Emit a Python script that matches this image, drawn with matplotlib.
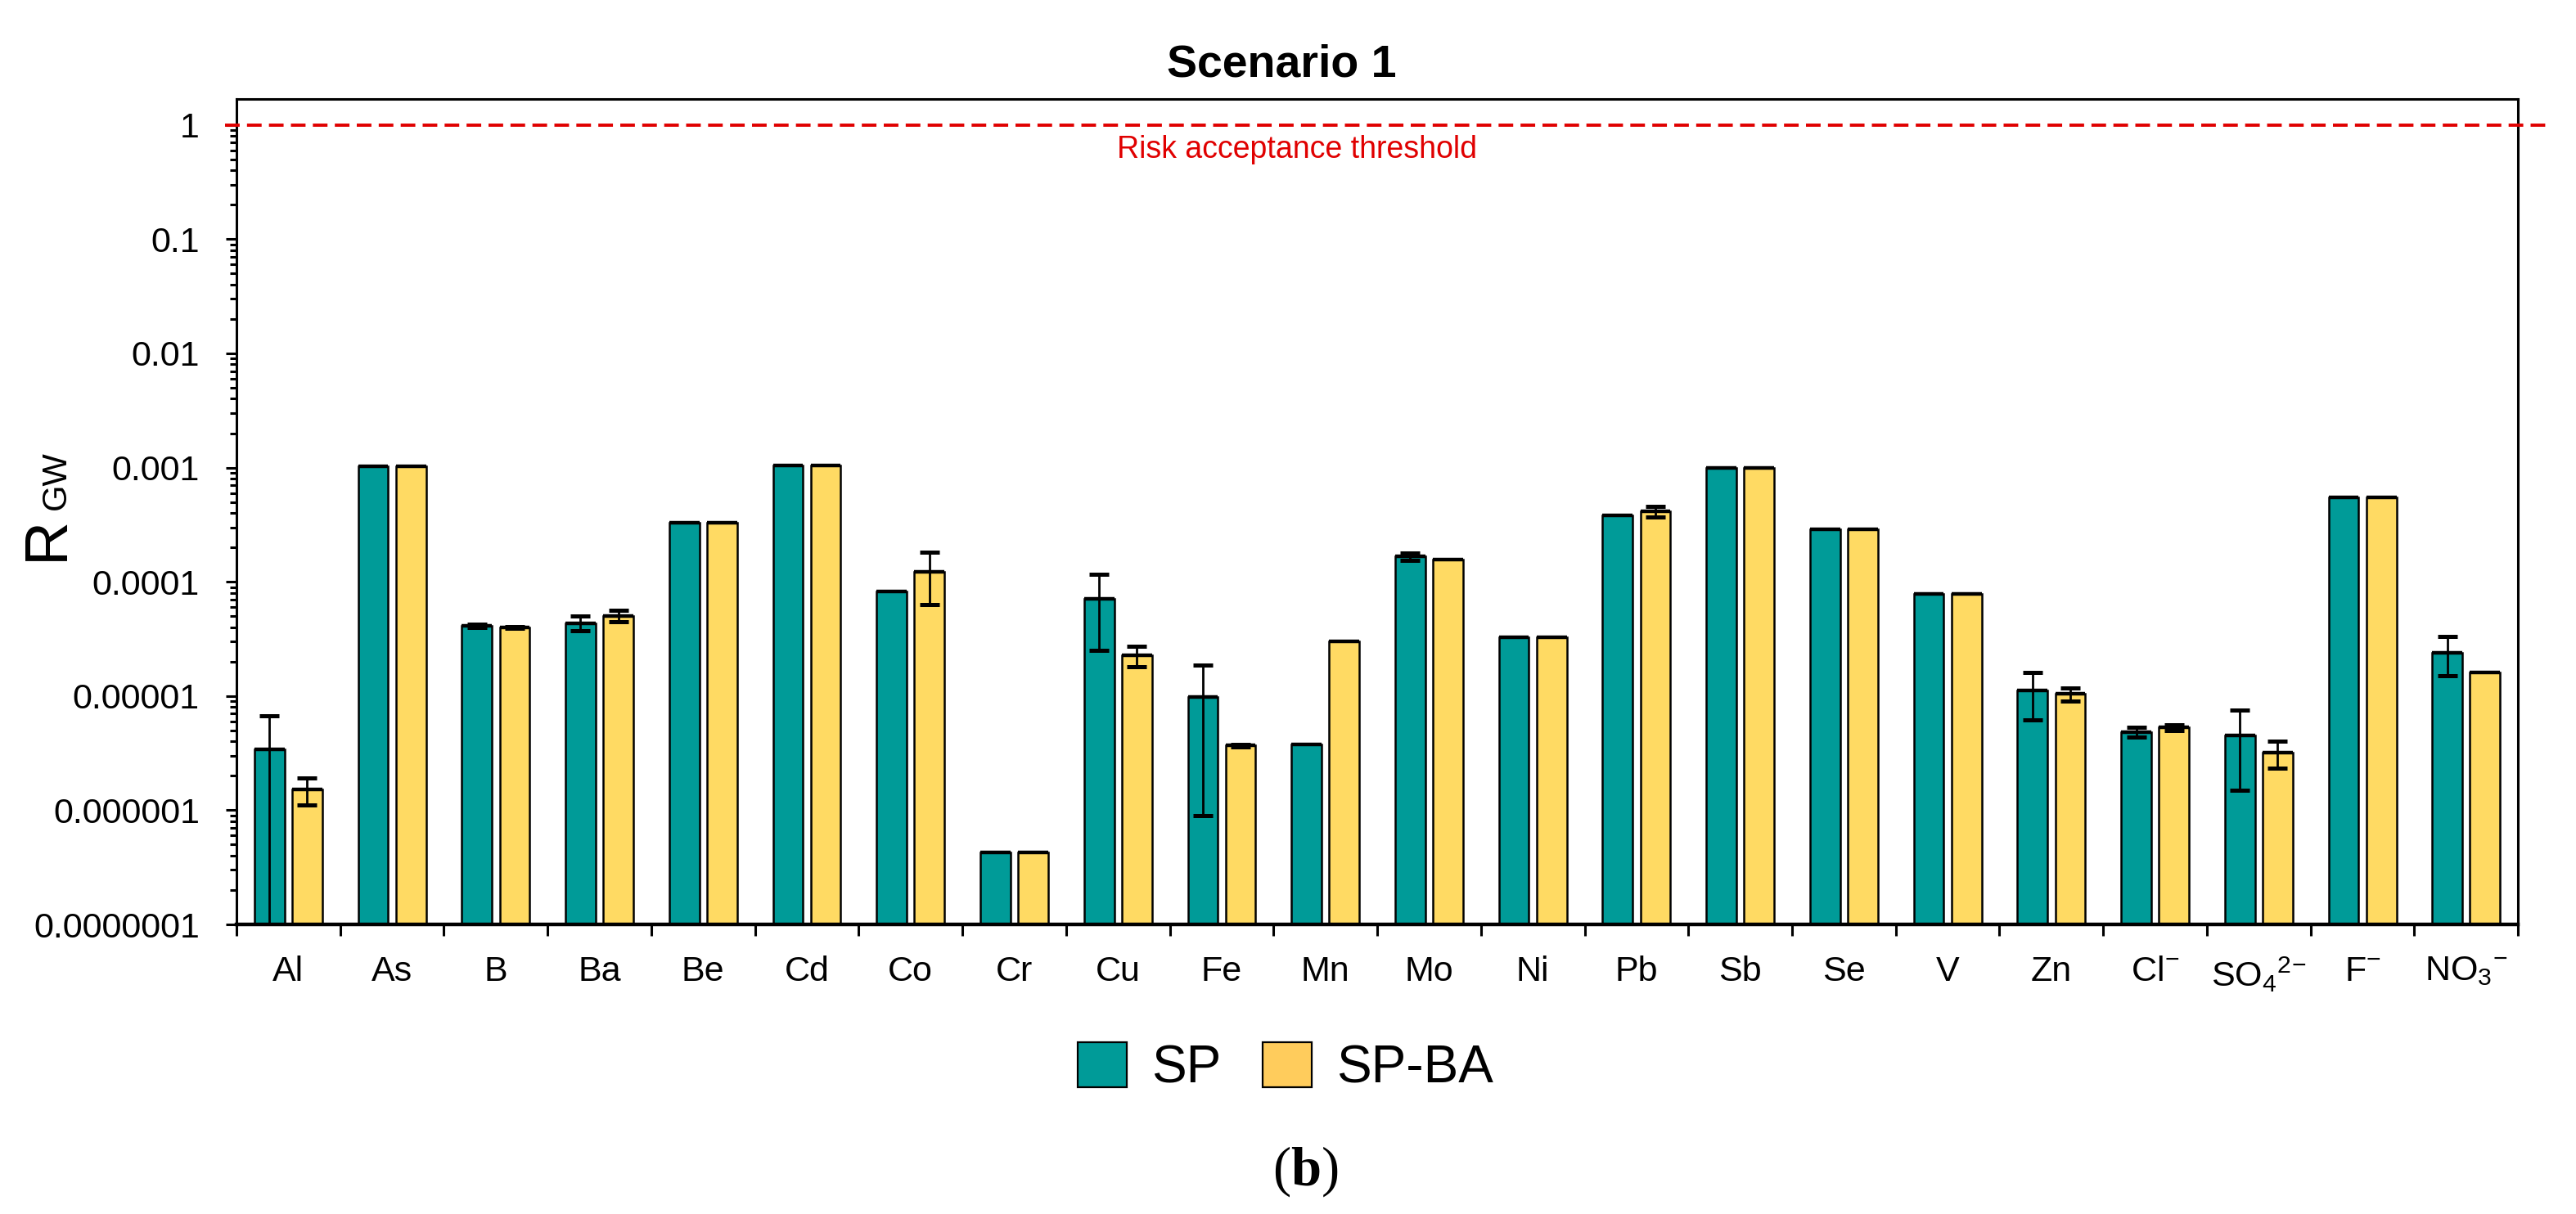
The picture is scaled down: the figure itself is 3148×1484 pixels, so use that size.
import numpy as np
import matplotlib
matplotlib.use("Agg")
import matplotlib.pyplot as plt
from matplotlib.patches import Patch
from matplotlib.ticker import LogLocator, FixedLocator, NullFormatter

plt.rcParams['font.family'] = ['Liberation Sans', 'DejaVu Sans']
plt.rcParams['mathtext.fontset'] = 'custom'
plt.rcParams['mathtext.rm'] = 'Liberation Sans'
plt.rcParams['mathtext.it'] = 'Liberation Sans'
plt.rcParams['mathtext.bf'] = 'Liberation Serif:bold'

categories = ['Al', 'As', 'B', 'Ba', 'Be', 'Cd', 'Co', 'Cr', 'Cu', 'Fe', 'Mn', 'Mo',
              'Ni', 'Pb', 'Sb', 'Se', 'V', 'Zn', r'Cl$^{-}$', r'SO$_{4}{}^{2\!-}$',
              r'F$^{-}$', r'NO$_{3}{}^{-}$']

sp = [3.4e-6, 1.03e-3, 4.13e-5, 4.35e-5, 3.29e-4, 1.05e-3, 8.2e-5, 4.3e-7,
      7.1e-5, 9.8e-6, 3.74e-6, 1.67e-4, 3.25e-5, 3.82e-4, 9.9e-4, 2.88e-4,
      7.83e-5, 1.12e-5, 4.85e-6, 4.5e-6, 5.48e-4, 2.4e-5]
sp_err = [3.3e-6, 0, 1.5e-6, 6.3e-6, 0, 0, 0, 0,
          4.6e-5, 8.9e-6, 0, 1.3e-5, 0, 0, 0, 0,
          0, 5.0e-6, 4.6e-7, 3.0e-6, 0, 9.0e-6]

spba = [1.52e-6, 1.03e-3, 4.0e-5, 5.03e-5, 3.29e-4, 1.05e-3, 1.22e-4, 4.3e-7,
        2.26e-5, 3.69e-6, 2.99e-5, 1.57e-4, 3.25e-5, 4.15e-4, 9.9e-4, 2.88e-4,
        7.83e-5, 1.04e-5, 5.30e-6, 3.17e-6, 5.48e-4, 1.62e-5]
spba_err = [4.1e-7, 0, 5e-7, 5.8e-6, 0, 0, 5.9e-5, 0,
            4.6e-6, 1.0e-7, 0, 0, 0, 4.5e-5, 0, 0,
            0, 1.3e-6, 3.3e-7, 8.5e-7, 0, 0]

series_names = ['SP', 'SP-BA']
teal = '#009B98'
yellow = '#FFDA63'
legend_yellow = '#FFCC5C'

fig = plt.figure(figsize=(15.74, 7.42), dpi=200)
ax = fig.add_axes([0.0918, 0.2385, 0.8857, 0.6803])

x = np.arange(len(categories))
w = 0.29
off = 0.182

for vals, errs, color, sgn in [(sp, sp_err, teal, -1), (spba, spba_err, yellow, 1)]:
    vals = np.array(vals)
    errs = np.array(errs)
    xs = x + sgn * off
    ax.bar(xs, vals, width=w, color=color, edgecolor='black', linewidth=0.9, zorder=2)
    ax.hlines(vals, xs - w / 2, xs + w / 2, color='black', linewidth=1.6, zorder=3)
    m = errs > 0
    ax.errorbar(xs[m], vals[m], yerr=errs[m], fmt='none', ecolor='black',
                elinewidth=1.0, capsize=4.3, capthick=1.8, zorder=4)

ax.set_yscale('log')
ax.set_ylim(1e-7, 1.70)
ax.set_xlim(-0.5, len(categories) - 0.5)

yt = [1e-7, 1e-6, 1e-5, 1e-4, 1e-3, 1e-2, 1e-1, 1]
ytl = ['0.0000001', '0.000001', '0.00001', '0.0001', '0.001', '0.01', '0.1', '1']
ax.set_yticks(yt)
ax.set_yticklabels(ytl)
ax.yaxis.set_minor_locator(LogLocator(base=10, subs=np.arange(2, 10)))
ax.yaxis.set_minor_formatter(NullFormatter())
ax.tick_params(axis='y', which='major', direction='out', length=4.7, width=1.1,
               labelsize=15.5, pad=11.5)
ax.tick_params(axis='y', which='minor', direction='out', length=2.8, width=1.1)

ax.set_xticks(x)
ax.set_xticklabels(categories)
ax.xaxis.set_minor_locator(FixedLocator(np.arange(-0.5, len(categories), 1.0)))
ax.tick_params(axis='x', which='major', length=0, labelsize=15.5, pad=13.5)
ax.tick_params(axis='x', which='minor', direction='out', length=5, width=1.1)

for s in ['top', 'left', 'right']:
    ax.spines[s].set_linewidth(1.1)
ax.spines['bottom'].set_linewidth(1.6)

# threshold line
ax.plot([-0.005, 1.0136], [1, 1], transform=ax.get_yaxis_transform(), color='#E00000',
        linewidth=1.4, dashes=(4.6, 2.3), clip_on=False, zorder=5)
ax.text(0.4649, 0.9282, 'Risk acceptance threshold', transform=ax.transAxes,
        ha='center', va='baseline', color='#E00000', fontsize=13.5)

# y label: R with smaller GW
ax.text(-0.0832, 0.468, 'R', transform=ax.transAxes, rotation=90, ha='center',
        va='center', fontsize=27)
ax.text(-0.0788, 0.538, 'GW', transform=ax.transAxes, rotation=90, ha='center',
        va='center', fontsize=15)

fig.text(0.4975, 0.9368, 'Scenario 1', ha='center', va='baseline', fontsize=20,
         fontweight='bold')

handles = [Patch(facecolor=teal, edgecolor='black', linewidth=0.8),
           Patch(facecolor=legend_yellow, edgecolor='black', linewidth=0.8)]
fig.legend(handles, series_names, loc='center', bbox_to_anchor=(0.499, 0.1206),
           ncol=2, frameon=False, fontsize=23, handlelength=0.94, handleheight=0.95,
           handletextpad=0.47, columnspacing=0.8)

fig.text(0.5066, 0.0237, r'($\mathbf{b}$)', ha='center', va='baseline', fontsize=24,
         family='Liberation Serif')

fig.savefig('out.png', dpi=200, facecolor='white')
